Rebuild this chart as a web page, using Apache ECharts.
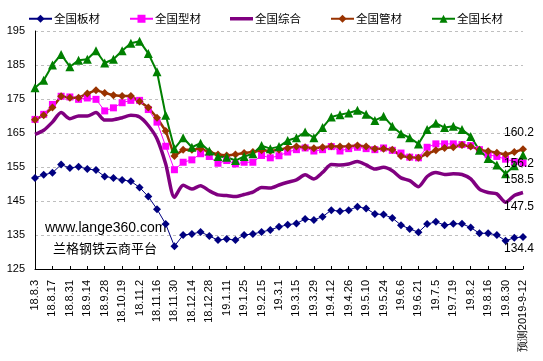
<!DOCTYPE html>
<html><head><meta charset="utf-8">
<script src="https://cdn.jsdelivr.net/npm/echarts@6/dist/echarts.min.js"></script>
<style>html,body{margin:0;padding:0;background:#fff}#c{width:543px;height:361px}</style>
</head><body><div id="c"></div>
<script>
var categories = ['18.8.3','18.8.10','18.8.17','18.8.24','18.8.31','18.9.7','18.9.14','18.9.21','18.9.28','18.10.12',
'18.10.19','18.10.26','18.11.2','18.11.9','18.11.16','18.11.23','18.11.30','18.12.7','18.12.14','18.12.21',
'18.12.28','19.1.4','19.1.11','19.1.18','19.1.25','19.2.1','19.2.15','19.2.22','19.3.1','19.3.8',
'19.3.15','19.3.22','19.3.29','19.4.4','19.4.12','19.4.19','19.4.26','19.5.5','19.5.10','19.5.17',
'19.5.24','19.5.31','19.6.6','19.6.14','19.6.21','19.6.28','19.7.5','19.7.12','19.7.19','19.7.26',
'19.8.2','19.8.9','19.8.16','19.8.23','19.8.30','19.9.6','预测2019-9-12'];
var plate = [151.8,152.7,153.3,155.7,154.7,155.1,154.4,154.1,152.2,151.8,
151.2,150.8,149,146.3,142.6,138.2,131.7,135,135.3,135.9,
134.7,133.5,133.8,133.5,135,135.3,135.9,136.5,137.4,138,
138.4,139.7,139.4,140.4,142.3,142,142.3,143.3,142.8,141.2,
141,140,137.9,136.8,135.8,138.2,138.9,137.9,138.3,138.3,
137.2,135.5,135.5,135,133.3,134.2,134.4];
var section = [169,170.5,173.4,175.8,175.6,174.9,175.3,174.9,171.5,172.4,
173.9,174.6,174.6,171.9,168.2,161.1,154.2,156.4,157.1,158.9,
158.1,156.1,156.9,155.9,156.4,156.4,158.4,157.7,158.3,159.4,
160.1,160.6,159.7,160.1,161,159.7,160.4,160.8,160.4,160.1,
160.6,159.9,159.1,157.9,157.7,160.8,161.8,161.8,161.8,161.6,
161.3,160.1,158.6,158.1,157.3,156.6,156.2];
var composite = [164.6,165.8,168.2,171,169.2,170,170,171,168.8,168.9,
169.5,170.2,169.7,167.2,163.3,155.9,146.1,149.6,148.5,149.5,
148,146.8,146.6,146.3,146.9,147.6,149,148.8,149.7,150.5,
151.2,152.7,151.5,153.4,155.7,155.6,155.9,156.6,155.6,154.4,
154.9,153.9,151.8,151,149.2,152.2,153.4,152.8,153,152.8,
151.5,148.5,147.5,147.1,144.6,146.6,147.5];
var pipe = [168.9,170.2,172.5,175.8,175.4,175.4,176.6,177.6,176.8,176.1,
175.9,175.9,174.3,172.5,169.5,165.6,158.2,160.1,160.1,160.4,
159.4,158.7,158.4,158.7,159.1,159.4,159.9,159.7,160.1,160.6,
161,160.8,160.5,160.8,161.1,161,161.1,161.3,161,160.4,
160.4,160.1,158.2,157.9,157.7,158.9,159.9,160.6,160.8,161.5,
161,160.1,159.6,159.2,158.7,159.4,160.2];
var longProd = [178.3,180.5,185,188.1,184.5,186.4,186.7,189.2,185.6,186.7,
189.2,191.4,192,188.4,183,170.2,160.4,163.6,160.8,162,
159.7,158.1,157.9,156.9,158.1,158.9,161.3,160.4,161,162.8,
163.6,165.3,163.6,166.6,169.7,170.4,170.9,171.7,170.5,168.7,
169.9,167,164.8,163.6,161.8,166,167.9,166.6,167,166,
164,159.9,157.5,155.6,153,155.4,158.5];
var seriesNames = ['全国板材','全国型材','全国综合','全国管材','全国长材'];
var yTicks = {min:125, max:195, step:10};

var chart = echarts.init(document.getElementById('c'), null, {renderer:'canvas'});
function endLbl(dy){
  return {show:true, distance:0, offset:[-19, dy], color:'#000', fontSize:12,
    fontFamily:'Liberation Sans, Arial, sans-serif',
    formatter:function(p){return Number(p.value).toFixed(1);}};
}
chart.setOption({
  animation:false,
  backgroundColor:'#fff',
  legend:{
    top:8, left:23, itemWidth:23, itemHeight:10, itemGap:29,
    textStyle:{fontSize:11.5, color:'#000', fontFamily:'Noto Sans CJK SC, sans-serif', padding:[0,0,0,-3]},
    data:[seriesNames[0], seriesNames[1],
      {name:seriesNames[2], icon:'path://M0,0 L23,0 L23,3.5 L0,3.5 Z'},
      seriesNames[3], seriesNames[4]]
  },
  grid:{left:35, right:20, top:31, bottom:92},
  xAxis:{
    type:'category', boundaryGap:false, data:categories,
    axisLine:{lineStyle:{color:'#000', width:1}},
    axisTick:{show:true, inside:true, length:3, interval:1, lineStyle:{color:'#000'}},
    axisLabel:{interval:1, rotate:90, margin:11, color:'#000', fontSize:11,
      fontFamily:'Liberation Sans, Arial, sans-serif'},
    splitLine:{show:false}
  },
  yAxis:{
    type:'value', min:yTicks.min, max:yTicks.max, interval:yTicks.step,
    axisLine:{show:true, lineStyle:{color:'#000', width:1}},
    axisTick:{show:false},
    axisLabel:{color:'#000', fontSize:11, margin:10, fontFamily:'Liberation Sans, Arial, sans-serif'},
    splitLine:{show:true, lineStyle:{color:'#bfbfbf', type:[3,3], width:1}}
  },
  graphic:[
    {type:'text', left:45, top:221, style:{text:'www.lange360.com', fill:'#000', font:'14px "Liberation Sans", Arial, sans-serif'}},
    {type:'text', left:53, top:242, style:{text:'兰格钢铁云商平台', fill:'#000', font:'13px "Noto Sans CJK SC", sans-serif'}}
  ],
  series:[
    {name:seriesNames[0], type:'line', data:plate, color:'#000080', showAllSymbol:true,
      symbol:'diamond', symbolSize:8, lineStyle:{width:1, color:'#000080'},
      itemStyle:{color:'#000080'}, endLabel:endLbl(12)},
    {name:seriesNames[1], type:'line', data:section, color:'#ff00ff', showAllSymbol:true,
      symbol:'rect', symbolSize:7, lineStyle:{width:1, color:'#ff00ff'},
      itemStyle:{color:'#ff00ff'}, endLabel:endLbl(1)},
    {name:seriesNames[2], type:'line', data:composite, color:'#800080',
      symbol:'none', smooth:0.25, lineStyle:{width:3.5, color:'#800080'},
      itemStyle:{color:'#800080'}, endLabel:endLbl(14)},
    {name:seriesNames[3], type:'line', data:pipe, color:'#993300', showAllSymbol:true,
      symbol:'diamond', symbolSize:8, lineStyle:{width:2.5, color:'#993300'},
      itemStyle:{color:'#993300'}, endLabel:endLbl(-17)},
    {name:seriesNames[4], type:'line', data:longProd, color:'#008000', showAllSymbol:true,
      symbol:'triangle', symbolSize:9, lineStyle:{width:2, color:'#008000'},
      itemStyle:{color:'#008000'}, endLabel:endLbl(25)}
  ]
});
</script></body></html>
